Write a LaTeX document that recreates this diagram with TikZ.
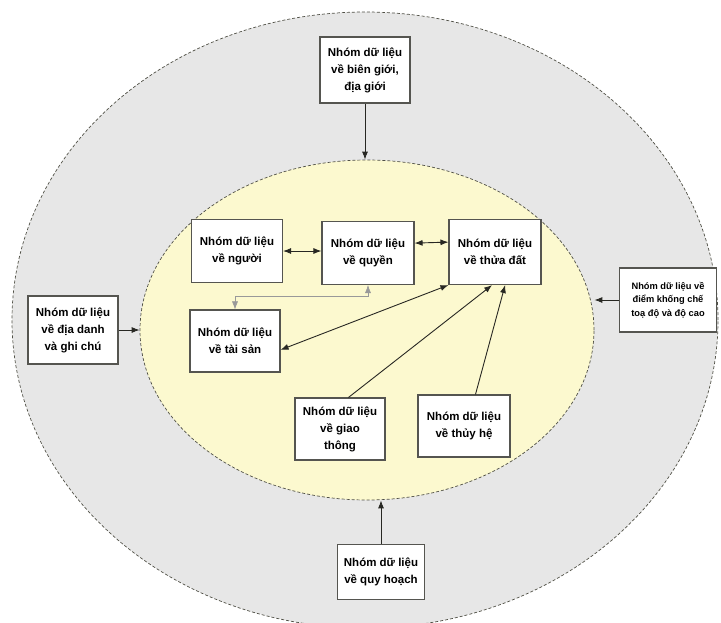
\documentclass[tikz,border=0pt]{standalone}
\usepackage{fontspec}
\setmainfont{Liberation Sans}
\usetikzlibrary{shapes.geometric,arrows.meta}

\definecolor{outergray}{RGB}{231,231,231}
\definecolor{innercream}{RGB}{252,249,207}
\definecolor{rimline}{RGB}{80,80,70}
\definecolor{boxline}{RGB}{85,85,80}
\definecolor{linkline}{RGB}{40,40,35}

\begin{document}
\begin{tikzpicture}[x=1pt, y=-1pt,
    grpbox/.style={draw=boxline, line width=1.1pt, fill=white, align=center,
        font=\bfseries\fontsize{11.5}{17}\selectfont,
        minimum width=91pt, minimum height=63pt, inner sep=2pt},
    smallbox/.style={grpbox, font=\bfseries\fontsize{9.3}{13.5}\selectfont},
    link/.style={line width=0.9pt, draw=linkline, >={Latex[length=8pt,width=6pt]}},
    thinlink/.style={link, line width=0.5pt, draw=gray!80}]
    \useasboundingbox (0,0) rectangle (721,622);
    \clip (0,0) rectangle (721,622);

    % Rings
    \filldraw[fill=outergray, draw=rimline, densely dashed, line width=0.7pt]
        (365,320) ellipse [x radius=353pt, y radius=308pt];
    \node[ellipse, fill=innercream, draw=rimline, densely dashed, line width=0.7pt,
        minimum width=454pt, minimum height=340pt, inner sep=0pt] (inner) at (367,330) {};

    % Core groups
    \node[grpbox] (nguoi) at (237,251) {Nhóm dữ liệu\\về người};
    \node[grpbox, minimum width=92pt] (quyen) at (368,253) {Nhóm dữ liệu\\về quyền};
    \node[grpbox, minimum width=92pt, minimum height=65pt] (thuadat) at (495,252) {Nhóm dữ liệu\\về thửa đất};
    \node[grpbox, minimum width=90pt, minimum height=62pt] (taisan) at (235,341) {Nhóm dữ liệu\\về tài sản};
    \node[grpbox, minimum width=90pt, minimum height=62pt] (giaothong) at (340,429) {Nhóm dữ liệu\\về giao\\thông};
    \node[grpbox, minimum width=92pt, minimum height=62pt] (thuyho) at (464,426) {Nhóm dữ liệu\\về thủy hệ};

    % Outer groups
    \node[grpbox, minimum width=90pt, minimum height=66pt] (biengioi) at (365,70) {Nhóm dữ liệu\\về biên giới,\\địa giới};
    \node[grpbox, minimum width=90pt, minimum height=68pt] (diadanh) at (73,330) {Nhóm dữ liệu\\về địa danh\\và ghi chú};
    \node[smallbox, minimum width=97pt, minimum height=64pt] (khongche) at (668,300) {Nhóm dữ liệu về\\điểm khống chế\\toạ độ và độ cao};
    \node[grpbox, minimum width=87pt, minimum height=55pt] (quyhoach) at (381,572) {Nhóm dữ liệu\\về quy hoạch};

    % Links inside
    \draw[link, <->] (nguoi.east) -- (nguoi.east -| quyen.west);
    \draw[link, <->] (quyen.12) -- (thuadat.168);
    \draw[thinlink, <->] (quyen.south) -- ++(0,11) -| (taisan.north);
    \draw[link, <->] (taisan.-11) -- (thuadat.south west);
    \draw[link, ->] (giaothong.75) -- (thuadat.-95);
    \draw[link, ->] (thuyho.70) -- (thuadat.-73);

    % Links from outside
    \draw[link, ->] (biengioi.south) -- (biengioi.south |- inner.north);
    \draw[link, ->] (diadanh.east) -- (inner.west);
    \draw[link, ->] (khongche.west) -- (khongche.west -| inner.east);
    \draw[link, ->] (quyhoach.north) -- (quyhoach.north |- inner.south);
\end{tikzpicture}
\end{document}
